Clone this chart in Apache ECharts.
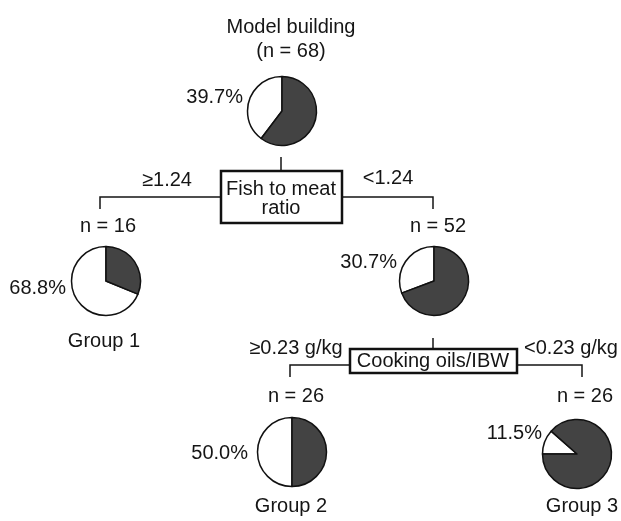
<!DOCTYPE html>
<html>
<head>
<meta charset="utf-8">
<script src="https://cdn.jsdelivr.net/npm/echarts@6/dist/echarts.min.js"></script>
<style>
html,body{margin:0;padding:0;background:#fff;}
#chart{width:621px;height:521px;}
</style>
</head>
<body>
<div id="chart"></div>
<script>
// ---- data ----
const rootTitle = 'Model building';
const nodeSizes = [68, 16, 52, 26, 26];            // root, group 1, inner node, group 2, group 3
const whitePercents = [39.7, 68.8, 30.7, 50.0, 11.5];
const splitNames = ['Fish to meat\nratio', 'Cooking oils/IBW'];
const leftRules = ['\u22651.24', '\u22650.23 g/kg'];
const rightRules = ['<1.24', '<0.23 g/kg'];
const groupNames = ['Group 1', 'Group 2', 'Group 3'];

// ---- layout / style ----
const FONT = '20px "Liberation Sans", Arial, Helvetica, sans-serif';
const INK = '#151515';
const DARK = '#434343';
const layout = {
  pieCenters: [[282, 111], [106, 281], [434, 281], [292, 452], [577, 454]],
  pieRadius: 34.5,
  startAngles: [90, 90, 90, 90, 180],
  clockwise: [false, false, false, false, true],
  pctLabels: [[243, 97], [66, 288], [397, 262], [248, 453], [542, 433]],
  nLabels: [null, [108, 226], [438, 226], [296, 396], [585, 396]],
  title: [291, 39],
  boxes: [
    { x: 221, y: 171, w: 121, h: 52, tx: 281, ty: 198.5 },
    { x: 350, y: 349, w: 167, h: 24, tx: 433, ty: 361 }
  ],
  leftRuleLabels: [[167, 180], [296, 348]],
  rightRuleLabels: [[388, 178], [571, 348]],
  groupLabels: [[104, 341], [291, 506], [582, 506]],
  connectors: [
    [[281, 157], [281, 171]],
    [[100, 209], [100, 197], [221, 197]],
    [[342, 197], [433, 197], [433, 209]],
    [[433, 338], [433, 349]],
    [[290, 377], [290, 365], [350, 365]],
    [[517, 365], [582, 365], [582, 377]]
  ]
};

function txt(text, pos, align, extra) {
  return Object.assign({
    type: 'text', silent: true,
    style: {
      text: text, x: pos[0], y: pos[1], fill: INK, font: FONT,
      textAlign: align || 'center', textVerticalAlign: 'middle', verticalAlign: 'middle'
    }
  }, extra || {});
}

const series = whitePercents.map(function (p, i) {
  return {
    type: 'pie',
    center: layout.pieCenters[i],
    radius: layout.pieRadius,
    startAngle: layout.startAngles[i],
    clockwise: layout.clockwise[i],
    silent: true,
    animation: false,
    avoidLabelOverlap: false,
    label: { show: false },
    labelLine: { show: false },
    emphasis: { disabled: true },
    itemStyle: { borderColor: '#111', borderWidth: 1.5 },
    data: [
      { name: 'white', value: p, itemStyle: { color: '#ffffff' } },
      { name: 'dark', value: 100 - p, itemStyle: { color: DARK } }
    ]
  };
});

const graphics = [];
// title
graphics.push({
  type: 'text', silent: true,
  style: {
    text: rootTitle + '\n(n = ' + nodeSizes[0] + ')',
    x: layout.title[0], y: layout.title[1], fill: INK, font: FONT, lineHeight: 24,
    textAlign: 'center', textVerticalAlign: 'middle', verticalAlign: 'middle'
  }
});
// percent labels
whitePercents.forEach(function (p, i) {
  graphics.push(txt(p.toFixed(1) + '%', layout.pctLabels[i], 'right'));
});
// n labels
nodeSizes.forEach(function (n, i) {
  if (layout.nLabels[i]) graphics.push(txt('n = ' + n, layout.nLabels[i], 'center'));
});
// connectors
layout.connectors.forEach(function (pts) {
  graphics.push({
    type: 'polyline', silent: true,
    shape: { points: pts },
    style: { stroke: INK, lineWidth: 1.5, fill: null }
  });
});
// split boxes
splitNames.forEach(function (s, i) {
  const b = layout.boxes[i];
  graphics.push({
    type: 'rect', silent: true,
    shape: { x: b.x, y: b.y, width: b.w, height: b.h },
    style: { fill: '#fff', stroke: '#111', lineWidth: 2.5 }
  });
  graphics.push({
    type: 'text', silent: true,
    style: {
      text: s, x: b.tx, y: b.ty, fill: INK, font: FONT, lineHeight: 19,
      textAlign: 'center', textVerticalAlign: 'middle', verticalAlign: 'middle'
    }
  });
});
// rule labels
leftRules.forEach(function (r, i) { graphics.push(txt(r, layout.leftRuleLabels[i], 'center')); });
rightRules.forEach(function (r, i) { graphics.push(txt(r, layout.rightRuleLabels[i], 'center')); });
// group labels
groupNames.forEach(function (g, i) { graphics.push(txt(g, layout.groupLabels[i], 'center')); });

const chart = echarts.init(document.getElementById('chart'), null, { renderer: 'canvas' });
chart.setOption({
  backgroundColor: '#ffffff',
  animation: false,
  series: series,
  graphic: { elements: graphics }
});
</script>
</body>
</html>
